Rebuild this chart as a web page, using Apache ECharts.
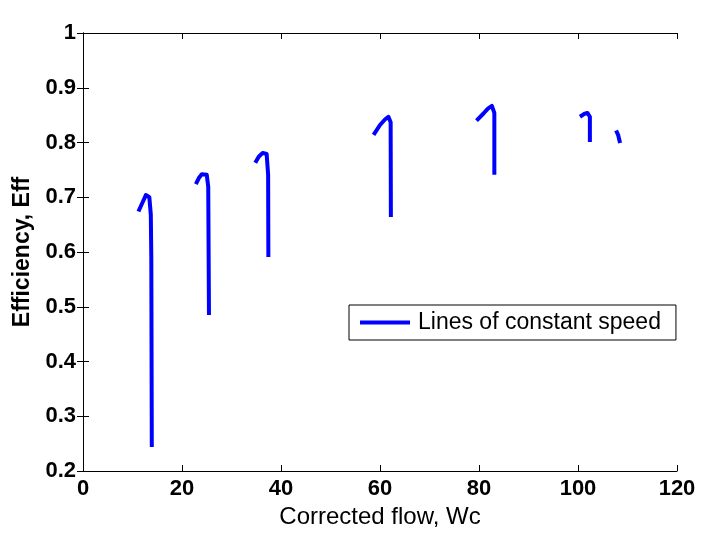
<!DOCTYPE html>
<html>
<head>
<meta charset="utf-8">
<script src="https://cdn.jsdelivr.net/npm/echarts@6/dist/echarts.min.js"></script>
<style>html,body{margin:0;padding:0;background:#fff;}#c{width:712px;height:537px;}</style>
</head>
<body>
<div id="c"></div>
<script>
// Corrected flow (Wc) and efficiency (Eff) for each line of constant speed
var speed1Flow = [11.2, 12.0, 12.7, 13.4, 13.7, 13.8, 13.9];
var speed1Eff  = [0.674, 0.690, 0.704, 0.700, 0.668, 0.591, 0.244];
var speed2Flow = [22.8, 23.4, 24.0, 25.0, 25.3, 25.45];
var speed2Eff  = [0.724, 0.735, 0.742, 0.741, 0.719, 0.485];
var speed3Flow = [34.8, 35.5, 36.3, 37.1, 37.4, 37.45];
var speed3Eff  = [0.763, 0.774, 0.781, 0.779, 0.741, 0.591];
var speed4Flow = [58.7, 60.0, 61.0, 61.7, 62.15, 62.2];
var speed4Eff  = [0.814, 0.832, 0.842, 0.847, 0.837, 0.664];
var speed5Flow = [79.5, 80.9, 81.8, 82.6, 83.1, 83.1];
var speed5Eff  = [0.840, 0.853, 0.862, 0.867, 0.854, 0.741];
var speed6Flow = [100.4, 101.2, 101.9, 102.4, 102.4];
var speed6Eff  = [0.847, 0.852, 0.854, 0.847, 0.801];
var speed7Flow = [107.7, 108.1, 108.5];
var speed7Eff  = [0.822, 0.814, 0.799];

var xTicks = [0, 20, 40, 60, 80, 100, 120];
var yTicks = [0.2, 0.3, 0.4, 0.5, 0.6, 0.7, 0.8, 0.9, 1];
var seriesName = 'Lines of constant speed';

var curves = [
  [speed1Flow, speed1Eff], [speed2Flow, speed2Eff], [speed3Flow, speed3Eff],
  [speed4Flow, speed4Eff], [speed5Flow, speed5Eff], [speed6Flow, speed6Eff],
  [speed7Flow, speed7Eff]
];

var FONT = 'Liberation Sans, Arial, Helvetica, sans-serif';
var series = curves.map(function (c) {
  return {
    name: seriesName,
    type: 'line',
    xAxisIndex: 0, yAxisIndex: 0,
    data: c[0].map(function (x, i) { return [x, c[1][i]]; }),
    showSymbol: false,
    symbol: 'none',
    lineStyle: { color: '#0000ff', width: 4, cap: 'butt', join: 'round' },
    itemStyle: { color: '#0000ff' },
    animation: false,
    silent: true
  };
});

var tickStyle = { show: true, inside: true, length: 6, lineStyle: { color: '#000', width: 1 } };
var lineStyle = { show: true, lineStyle: { color: '#000', width: 1 } };

var xBase = {
  type: 'value', min: xTicks[0], max: xTicks[xTicks.length - 1],
  interval: xTicks[1] - xTicks[0],
  axisLine: lineStyle, axisTick: tickStyle, splitLine: { show: false }
};
var yBase = {
  type: 'value', min: yTicks[0], max: yTicks[yTicks.length - 1],
  interval: 0.1,
  axisLine: lineStyle, axisTick: tickStyle, splitLine: { show: false }
};

var option = {
  backgroundColor: '#fff',
  animation: false,
  grid: { left: 83, right: 35, top: 33, bottom: 66, containLabel: false },
  legend: {
    data: [seriesName],
    left: 349, top: 305,
    orient: 'horizontal',
    icon: 'rect', itemWidth: 50, itemHeight: 4,
    backgroundColor: '#fff',
    borderColor: '#000', borderWidth: 1, borderRadius: 0,
    padding: [6, 15, 6, 11],
    selectedMode: false,
    textStyle: { color: '#000', fontFamily: FONT, fontSize: 23, lineHeight: 23, padding: [0, 0, 0, 3] }
  },
  xAxis: [
    Object.assign({}, xBase, {
      position: 'bottom',
      name: 'Corrected flow, Wc', nameLocation: 'middle', nameGap: 34,
      nameTextStyle: { color: '#000', fontFamily: FONT, fontSize: 24 },
      axisLabel: { color: '#000', fontFamily: FONT, fontSize: 22, fontWeight: 'bold', margin: 7,
        formatter: function (v) { return String(v); } }
    }),
    Object.assign({}, xBase, { position: 'top', axisLabel: { show: false } })
  ],
  yAxis: [
    Object.assign({}, yBase, {
      position: 'left',
      name: 'Efficiency, Eff', nameLocation: 'middle', nameGap: 46, nameRotate: 90,
      nameTextStyle: { color: '#000', fontFamily: FONT, fontSize: 23, fontWeight: 'bold' },
      axisLabel: { color: '#000', fontFamily: FONT, fontSize: 22, fontWeight: 'bold', margin: 7,
        formatter: function (v) { return String(+v.toFixed(1)); } }
    }),
    Object.assign({}, yBase, { position: 'right', axisLabel: { show: false } })
  ],
  series: series
};

var chart = echarts.init(document.getElementById('c'), null, { renderer: 'canvas' });
chart.setOption(option);
</script>
</body>
</html>
